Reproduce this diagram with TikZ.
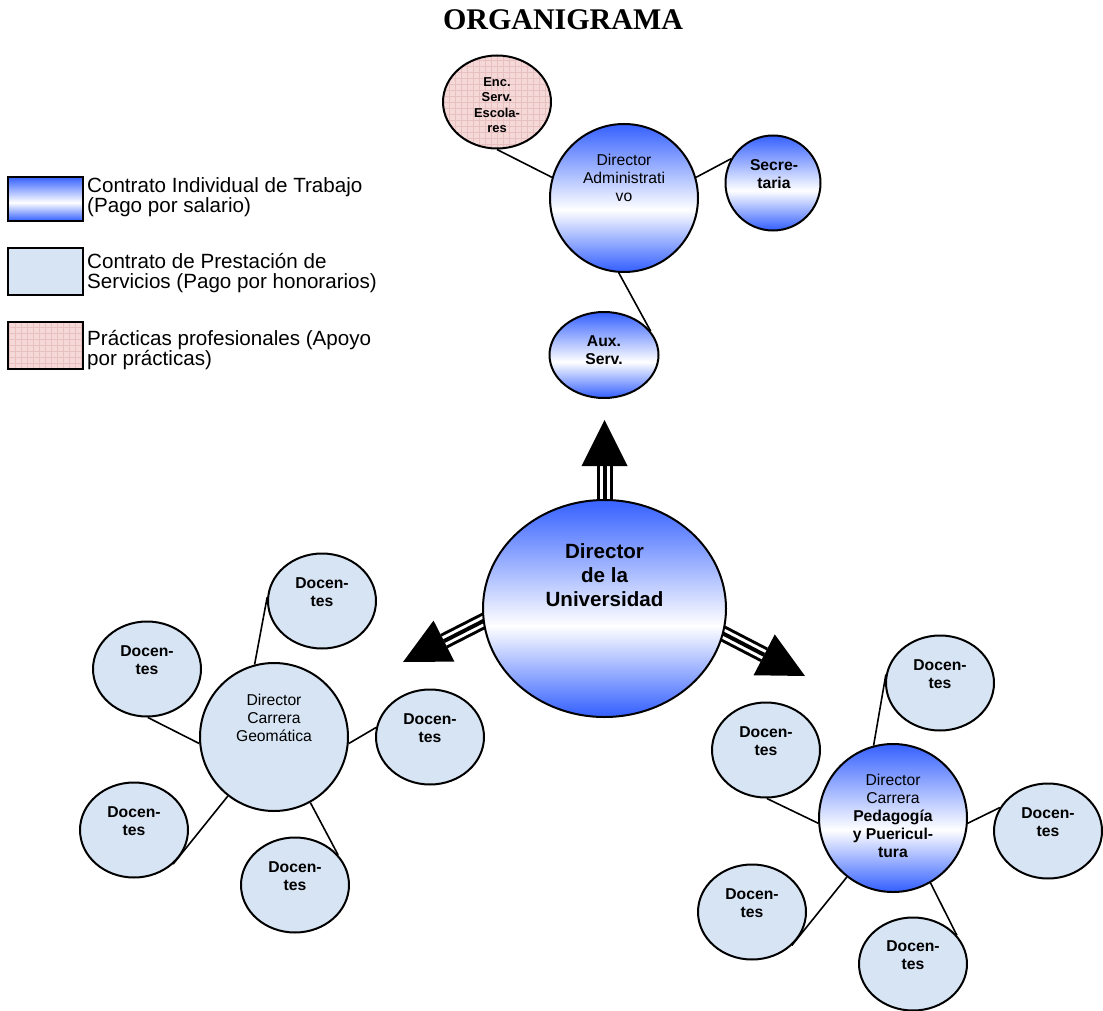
\documentclass[tikz,border=0pt]{standalone}
\usepackage{fontspec}
\setmainfont{Liberation Sans}
\newfontfamily\titlefont{Liberation Serif}
\usetikzlibrary{shapes.geometric,calc,backgrounds}
\definecolor{bl}{RGB}{60,102,255}
\definecolor{tissue}{RGB}{214,228,243}
\definecolor{pinkbg}{RGB}{245,216,216}
\definecolor{pinkln}{RGB}{232,192,192}
\pgfdeclareverticalshading{bwb}{100bp}{color(0bp)=(bl); color(26bp)=(bl); color(46bp)=(white); color(74bp)=(bl); color(100bp)=(bl)}
\newcommand\fbig{\fontsize{20.6pt}{20.5pt}\selectfont}
\newcommand\fboss{\fontsize{20.6pt}{23.8pt}\selectfont}
\newcommand\fmid{\fontsize{15.7pt}{18pt}\selectfont}
\newcommand\fsml{\fontsize{12.9pt}{15.3pt}\selectfont}
\tikzset{
  salario/.style={draw=black, line width=2pt, shading=bwb},
  honor/.style={draw=black, line width=2pt, fill=tissue},
  practica/.style={draw=black, line width=2pt, fill=pinkbg,
    path picture={
      \foreach \k in {-60,-54,...,60} {
        \draw[pinkln, line width=0.5pt] ([xshift=\k pt,yshift=-70pt]path picture bounding box.center) -- ++(0pt,140pt);
        \draw[pinkln, line width=0.5pt] ([yshift=\k pt,xshift=-70pt]path picture bounding box.center) -- ++(140pt,0pt);
      }
    }},
  ell/.style={ellipse, inner sep=0pt},
  doc/.style={ell, honor, minimum width=108pt, minimum height=95pt},
  boss/.style={ell, minimum width=148pt, minimum height=148pt},
  conn/.style={draw=black, line width=1.6pt},
  lab/.style={align=center, inner sep=0pt},
  legtxt/.style={align=left, anchor=west, inner sep=0pt, font=\fbig},
  head/.style={fill=black},
}
\begin{document}
\begin{tikzpicture}[x=1pt,y=-1pt]
\useasboundingbox (0,0) rectangle (1103,1011);

% title
\node[font=\titlefont\bfseries\fontsize{30pt}{32pt}\selectfont, inner sep=0pt] (title) at (563,20) {ORGANIGRAMA};

% legend
\node[rectangle, salario, minimum width=75pt, minimum height=44pt, inner sep=0pt] (lg1) at (45.5,199) {};
\node[rectangle, honor, minimum width=75pt, minimum height=47pt, inner sep=0pt] (lg2) at (45.5,271.5) {};
\node[rectangle, practica, minimum width=75pt, minimum height=47pt, inner sep=0pt] (lg3) at (45.5,345.5) {};
\node[legtxt] (lt1) at (87,197) {Contrato Individual de Trabajo\\(Pago por salario)};
\node[legtxt] (lt2) at (87,273) {Contrato de Prestación de\\Servicios (Pago por honorarios)};
\node[legtxt] (lt3) at (87,350) {Prácticas profesionales (Apoyo\\por prácticas)};

% main node
\node[ell, salario, minimum width=243pt, minimum height=217pt] (u) at (604.5,608.5) {};
\node[lab, font=\fboss\bfseries] (ut) at (604.5,575) {Director\\de la\\Universidad};

% arrow tips
\coordinate (tipU) at (604.5,420);
\coordinate (tipL) at (403,662);
\coordinate (tipR) at (805,676);
\coordinate (baseU) at ($(tipU)!46pt!(u.north)$);
\coordinate (baseL) at ($(tipL)!46pt!(u.186)$);
\coordinate (baseR) at ($(tipR)!46pt!(u.348)$);
\begin{scope}[on background layer]
  \foreach \s/\b in {u.north/baseU, u.186/baseL, u.348/baseR} {
    \draw[line width=16pt, black] ($(\s)!-8pt!(\b)$) -- (\b);
    \draw[line width=10pt, white] ($(\s)!-8pt!(\b)$) -- (\b);
    \draw[line width=4pt, black] ($(\s)!-8pt!(\b)$) -- (\b);
  }
\end{scope}
\fill[head] (tipU) -- ($(baseU)!23pt!90:(tipU)$) -- ($(baseU)!23pt!-90:(tipU)$) -- cycle;
\fill[head] (tipL) -- ($(baseL)!23pt!90:(tipL)$) -- ($(baseL)!23pt!-90:(tipL)$) -- cycle;
\fill[head] (tipR) -- ($(baseR)!23pt!90:(tipR)$) -- ($(baseR)!23pt!-90:(tipR)$) -- cycle;

% administrative cluster
\node[boss, salario] (a) at (624,198) {};
\node[lab, font=\fmid] (at) at (624,178) {Director\\Administrati\\vo};
\node[ell, practica, minimum width=108pt, minimum height=93pt] (enc) at (497,102) {};
\node[lab, font=\fsml\bfseries] (enct) at (497,105) {Enc.\\Serv.\\Escola-\\res};
\node[ell, salario, minimum width=95pt, minimum height=95pt] (sec) at (773,183) {};
\node[lab, font=\fmid\bfseries] (sect) at (774,174) {Secre-\\taria};
\node[ell, salario, minimum width=109pt, minimum height=86pt] (aux) at (604,355) {};
\node[lab, font=\fmid\bfseries] (auxt) at (604,350) {Aux.\\Serv.};
\draw[conn] (a.164) -- (enc.270);
\draw[conn] (a.16) -- (sec.150);
\draw[conn] (a.266) -- (aux.27);

% Geomatica cluster
\node[boss, honor] (g) at (274,737) {};
\node[lab, font=\fmid] (gt) at (274,718) {Director\\Carrera\\Geomática};
\node[doc] (g1) at (322,601) {};
\node[doc] (g2) at (147,669) {};
\node[doc] (g3) at (134,830) {};
\node[doc] (g4) at (295,885) {};
\node[doc] (g5) at (430,737) {};
\foreach \n in {g1,g2,g3,g4,g5} {
  \node[lab, font=\fmid\bfseries] (\n t) at ($(\n)+(0,-9)$) {Docen-\\tes};
}
\draw[conn] (g.105) -- (g1.176);
\draw[conn] (g.185) -- (g2.271);
\draw[conn] (g.232) -- (g3.319);
\draw[conn] (g.299) -- (g4.35);
\draw[conn] (g.355) -- (g5.170);

% Pedagogia cluster
\node[boss, salario] (p) at (893,818) {};
\node[lab, font=\fmid] (pt) at (893,816) {Director\\Carrera\\\textbf{Pedagogía}\\\textbf{y Puericul-}\\\textbf{tura}};
\node[doc] (p1) at (940,683) {};
\node[doc] (p2) at (766,750) {};
\node[doc] (p3) at (1048,831) {};
\node[doc] (p4) at (752,912) {};
\node[doc, minimum height=93pt] (p5) at (913,964) {};
\foreach \n in {p1,p2,p3,p4,p5} {
  \node[lab, font=\fmid\bfseries] (\n t) at ($(\n)+(0,-9)$) {Docen-\\tes};
}
\draw[conn] (p.105) -- (p1.171);
\draw[conn] (p.184) -- (p2.271);
\draw[conn] (p.356) -- (p3.154);
\draw[conn] (p.232) -- (p4.320);
\draw[conn] (p.300) -- (p5.33);
\end{tikzpicture}
\end{document}
